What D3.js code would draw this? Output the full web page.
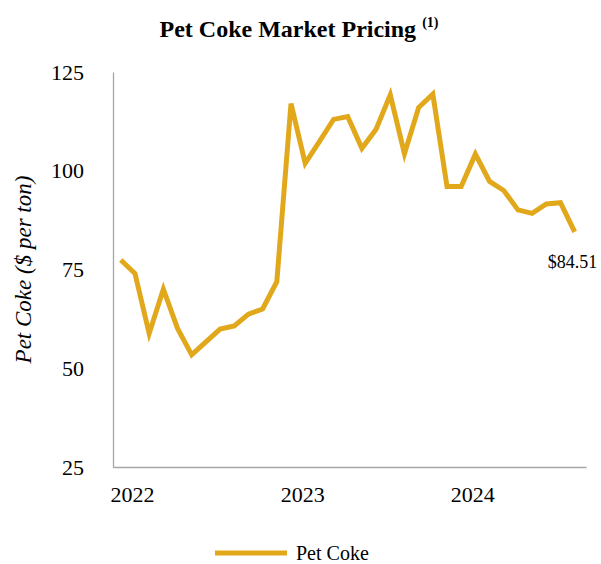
<!DOCTYPE html>
<html lang="en">
  <head>
    <meta charset="utf-8">
    <title>Pet Coke Market Pricing</title>
    <script src="https://cdn.jsdelivr.net/npm/d3@7/dist/d3.min.js"></script>
    <style>
      body { margin: 0; background: #fff; }
      svg { font-family: "Liberation Serif", "Times New Roman", serif; }
    </style>
  </head>
  <body>
    <div id="chart"></div>
  </body>
</html>

<script>

// monthly prices, Dec 2021 - Aug 2024
const months = d3.range(33).map(i => new Date(2021, 11 + i, 1));
const prices = [77.4, 74.0, 58.8, 70.0, 60.1, 53.4, 56.7, 59.9, 60.7, 63.7, 65.0, 71.9,
  117.0, 101.9, 107.4, 113.0, 113.7, 105.7, 110.5, 119.2, 104.3, 116.0, 119.4, 96.0,
  96.0, 104.2, 97.3, 95.0, 90.1, 89.2, 91.6, 91.9, 84.51];
const yTicks = [25, 50, 75, 100, 125];
const yearTicks = [1, 13, 25]; // January of 2022, 2023, 2024
const lastLabel = "$84.51";

const width = 601;
const height = 564;
const margin = { top: 72, right: 15, bottom: 97, left: 113 };
const color = "#e2a81c";

const svg = d3.select("#chart")
  .append("svg")
  .attr("width", width)
  .attr("height", height);

// month index scale, axis runs a little past both ends of the data
const x = d3.scaleLinear()
  .domain([-0.55, 32.8])
  .range([margin.left, width - margin.right]);

const y = d3.scaleLinear()
  .domain([25, 125])
  .range([height - margin.bottom, margin.top]);

// title
const title = svg.append("text")
  .attr("x", 299)
  .attr("y", 37)
  .attr("text-anchor", "middle")
  .style("font-weight", "bold")
  .style("font-size", "24px");
title.append("tspan").text("Pet Coke Market Pricing ");
title.append("tspan")
  .attr("dy", -10)
  .style("font-size", "14px")
  .text("(1)");

// y axis
const yAxis = svg.append("g")
  .attr("transform", `translate(${margin.left},0)`)
  .call(d3.axisLeft(y).tickValues(yTicks).tickSize(0).tickPadding(29));
yAxis.select(".domain").attr("stroke", "#a6a6a6").attr("stroke-width", 1.3);
yAxis.selectAll("text")
  .style("font-size", "22px")
  .style("font-family", "Liberation Serif, serif")
  .attr("fill", "#000");

// x axis
const xAxis = svg.append("g")
  .attr("transform", `translate(0,${height - margin.bottom})`)
  .call(d3.axisBottom(x)
    .tickValues(yearTicks)
    .tickFormat(i => d3.timeFormat("%Y")(months[i]))
    .tickSize(0)
    .tickPadding(19));
xAxis.select(".domain").attr("stroke", "#a6a6a6").attr("stroke-width", 1.3);
xAxis.selectAll("text")
  .attr("dx", -3)
  .style("font-size", "22px")
  .style("font-family", "Liberation Serif, serif")
  .attr("fill", "#000");

// y axis title
svg.append("text")
  .attr("transform", `translate(31,${(margin.top + height - margin.bottom) / 2}) rotate(-90)`)
  .attr("text-anchor", "middle")
  .style("font-style", "italic")
  .style("font-size", "23px")
  .text("Pet Coke ($ per ton)");

// line
const line = d3.line()
  .x((d, i) => x(i))
  .y(d => y(d));

svg.append("path")
  .datum(prices)
  .attr("fill", "none")
  .attr("stroke", color)
  .attr("stroke-width", 5)
  .attr("stroke-linejoin", "miter")
  .attr("d", line);

// last value label
svg.append("text")
  .attr("x", x(prices.length - 1) - 27)
  .attr("y", 268)
  .style("font-size", "18px")
  .text(lastLabel);

// legend
const legend = svg.append("g").attr("transform", "translate(215,553)");
legend.append("line")
  .attr("x1", 0).attr("x2", 72)
  .attr("stroke", color)
  .attr("stroke-width", 5);
legend.append("text")
  .attr("x", 81)
  .attr("y", 7)
  .style("font-size", "20px")
  .text("Pet Coke");

</script>
